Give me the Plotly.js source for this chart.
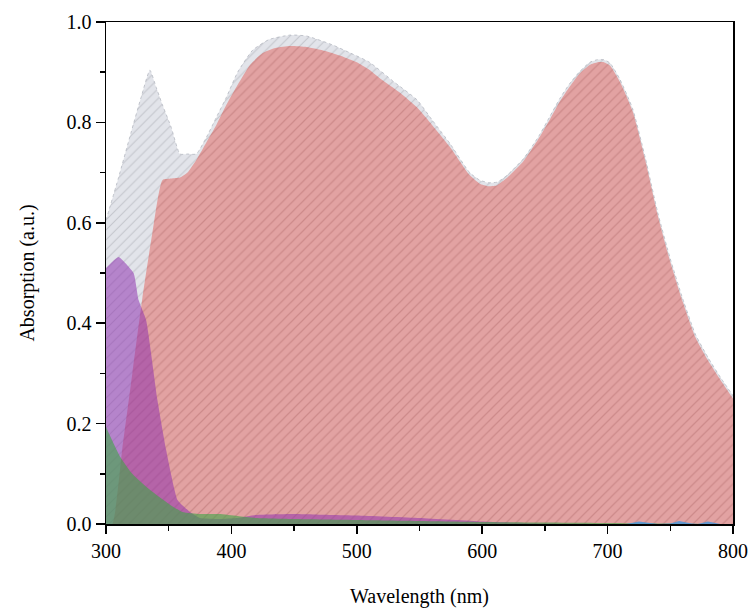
<!DOCTYPE html>
<html>
<head>
<meta charset="utf-8">
<script src="https://cdn.plot.ly/plotly-3.0.1.min.js"></script>
<style>html,body{margin:0;padding:0;background:#fff;}#chart{width:750px;height:613px;}</style>
</head>
<body>
<div id="chart"></div>
<script>
// Total absorption envelope (grey)
const totalX = [300,310,320,328,335,340,345,352,359,365,372,380,388,396,405,417,430,447,460,480,495,510,530,548,560,574,590,598,605,612,620,633,645,654,662,670,678,686,692,697,702,710,720,730,740,750,760,770,780,790,800];
const totalY = [0.605,0.69,0.78,0.85,0.904,0.87,0.835,0.79,0.737,0.737,0.737,0.77,0.81,0.85,0.90,0.944,0.965,0.974,0.972,0.955,0.938,0.92,0.88,0.845,0.805,0.759,0.70,0.685,0.68,0.681,0.695,0.728,0.772,0.812,0.848,0.878,0.902,0.92,0.925,0.925,0.918,0.885,0.827,0.73,0.62,0.528,0.448,0.378,0.332,0.292,0.256];
// Red component
const redX = [300,305,313,321,329,337,345,352,359,365,372,380,388,396,405,415,425,435,447,460,475,490,500,510,520,534,548,560,574,590,598,605,612,620,633,645,654,662,670,678,686,692,697,702,710,720,730,740,750,760,770,780,790,800];
const redY = [0,0.0,0.15,0.30,0.45,0.58,0.685,0.688,0.69,0.70,0.725,0.76,0.795,0.835,0.875,0.915,0.938,0.948,0.952,0.95,0.942,0.93,0.92,0.905,0.885,0.86,0.83,0.795,0.752,0.695,0.678,0.673,0.675,0.69,0.723,0.768,0.806,0.842,0.872,0.898,0.915,0.92,0.92,0.913,0.88,0.822,0.725,0.615,0.522,0.442,0.372,0.326,0.287,0.25];
// Purple component
const purpleX = [300,310,322,326,332,341,348,357,367,375,390,405,420,450,480,500,550,600,650,700,800];
const purpleY = [0.51,0.532,0.50,0.446,0.406,0.247,0.147,0.048,0.024,0.012,0.010,0.012,0.018,0.02,0.018,0.017,0.012,0.005,0.001,0,0];
// Green component
const greenX = [300,311,321,335,349,361,375,390,405,420,450,500,550,600,650,700,750,800];
const greenY = [0.193,0.135,0.10,0.068,0.042,0.024,0.02,0.02,0.016,0.012,0.01,0.008,0.006,0.004,0.003,0.002,0.001,0];
// Blue component
const blueX = [300,700,715,725,740,750,757,767,772,780,790,800];
const blueY = [0,0,0,0.005,0,0.001,0.006,0.001,0,0.005,0,0];

const traces = [
  {x: totalX, y: totalY, type:'scatter', mode:'lines', fill:'tozeroy',
   line:{color:'#b4b7c0', width:0.8, dash:'dot', shape:'spline', smoothing:0.5},
   fillcolor:'#e2e4ea',
   fillpattern:{shape:'/', bgcolor:'#e2e4ea', fgcolor:'#a4a6ad', size:7, solidity:0.15, fillmode:'overlay'}},
  {x: redX, y: redY, type:'scatter', mode:'lines', fill:'tozeroy',
   line:{width:0, color:'#e2a2a2', shape:'spline', smoothing:0.5},
   fillcolor:'#e2a2a2',
   fillpattern:{shape:'/', bgcolor:'#e2a2a2', fgcolor:'#b87272', size:7, solidity:0.18, fillmode:'overlay'}},
  {x: purpleX, y: purpleY, type:'scatter', mode:'lines', fill:'tozeroy',
   line:{width:0, shape:'spline', smoothing:0.4}, fillcolor:'rgba(140,45,175,0.52)'},
  {x: greenX, y: greenY, type:'scatter', mode:'lines', fill:'tozeroy',
   line:{width:0, shape:'spline', smoothing:0.5}, fillcolor:'rgba(61,165,70,0.6)'},
  {x: blueX, y: blueY, type:'scatter', mode:'lines', fill:'tozeroy',
   line:{width:0}, fillcolor:'rgba(70,150,220,0.8)'}
];

const tickFont = {family:'"Liberation Serif", "DejaVu Serif", serif', size:20, color:'#000'};
const titleFont = {family:'"Liberation Serif", "DejaVu Serif", serif', size:20, color:'#000'};
const layout = {
  width:750, height:613,
  margin:{l:106, r:17, t:22, b:89},
  paper_bgcolor:'#fff', plot_bgcolor:'#fff',
  showlegend:false,
  font: tickFont,
  xaxis:{range:[300,800], tickvals:[300,400,500,600,700,800], ticks:'outside', ticklen:8, tickwidth:1.5, tickcolor:'#000',
    minor:{tickvals:[350,450,550,650,750], ticks:'outside', ticklen:5, tickwidth:1.5, tickcolor:'#000'},
    showgrid:false, zeroline:false, showline:true, linecolor:'#000', linewidth:1.5, mirror:true,
    tickfont:tickFont, title:{text:'Wavelength (nm)', font:titleFont, standoff:28}},
  yaxis:{range:[0,1.0], tickvals:[0,0.2,0.4,0.6,0.8,1.0], tickformat:'.1f', ticks:'outside', ticklen:9, tickwidth:1.5, tickcolor:'#000',
    minor:{tickvals:[0.1,0.3,0.5,0.7,0.9], ticks:'outside', ticklen:5, tickwidth:1.5, tickcolor:'#000'},
    showgrid:false, zeroline:false, showline:true, linecolor:'#000', linewidth:1.5, mirror:true,
    tickfont:tickFont, title:{text:'Absorption (a.u.)', font:titleFont, standoff:26}}
};
Plotly.newPlot('chart', traces, layout, {displayModeBar:false, staticPlot:true});
</script>
</body>
</html>
